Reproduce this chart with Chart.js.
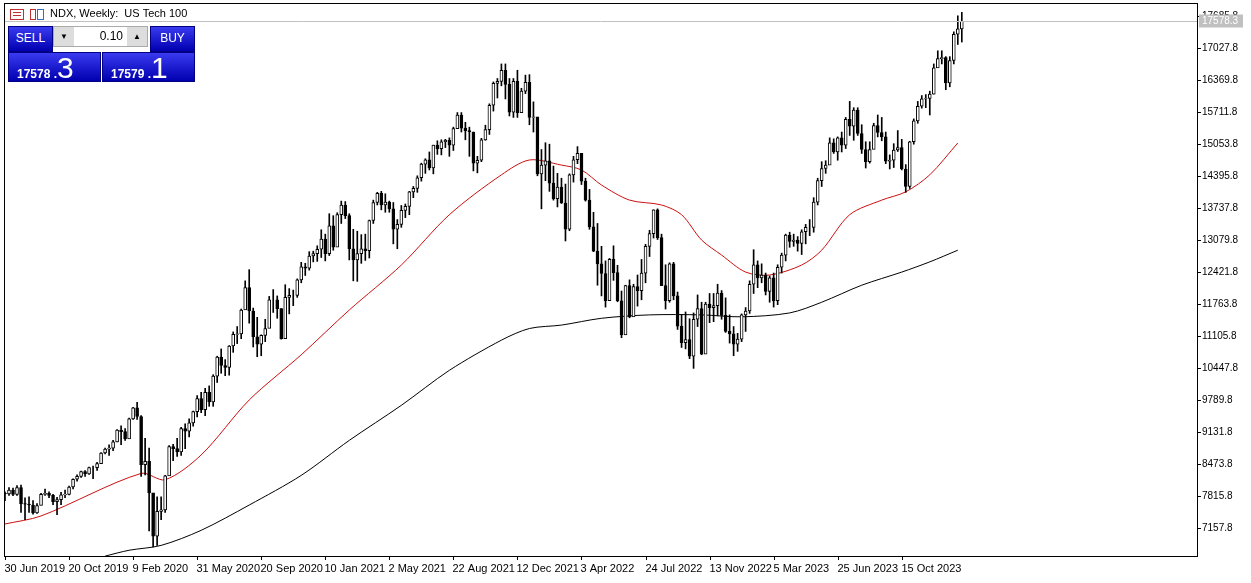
<!DOCTYPE html>
<html>
<head>
<meta charset="utf-8">
<script src="https://cdn.jsdelivr.net/npm/chart.js@4/dist/chart.umd.min.js"></script>
<style>
  html, body { margin: 0; padding: 0; background: #fff; overflow: hidden; }
  #wrap { position: relative; width: 1251px; height: 583px; }
  #c { position: absolute; left: 0; top: 0; }
  .panel { position: absolute; font-family: "Liberation Sans", Arial, sans-serif; color: #fff; }
  .blue { background: linear-gradient(#3a3af0, #0000b0); border: 1px solid #000080; box-sizing: border-box; }
  .btn { font-size: 12px; text-align: center; line-height: 22px; }
  .price { font-weight: bold; font-size: 12px; }
  .price b { font-size: 30px; font-weight: normal; }
</style>
</head>
<body>
<div id="wrap">
  <canvas id="c" width="1251" height="583"></canvas>
  <div class="panel blue btn" style="left:8px;top:26px;width:45px;height:26px;">SELL</div>
  <div class="panel" style="left:53px;top:26px;width:95px;height:21px;background:#fff;border:1px solid #aaa;box-sizing:border-box;color:#000;font-size:12px;">
    <span style="position:absolute;left:0;top:0;width:20px;height:19px;background:#ddd;text-align:center;font-size:8px;line-height:19px;">&#9660;</span>
    <span style="position:absolute;right:24px;top:2px;">0.10</span>
    <span style="position:absolute;right:0;top:0;width:20px;height:19px;background:#ddd;text-align:center;font-size:8px;line-height:19px;">&#9650;</span>
  </div>
  <div class="panel blue btn" style="left:150px;top:26px;width:45px;height:26px;">BUY</div>
  <div class="panel blue price" style="left:8px;top:52px;width:93px;height:30px;padding-left:8px;line-height:30px;">17578 .<b>3</b></div>
  <div class="panel blue price" style="left:102px;top:52px;width:93px;height:30px;padding-left:8px;line-height:30px;">17579 .<b>1</b></div>
</div>
<script>
const dateLabels = ['30 Jun 2019','20 Oct 2019','9 Feb 2020','31 May 2020','20 Sep 2020','10 Jan 2021',
  '2 May 2021','22 Aug 2021','12 Dec 2021','3 Apr 2022','24 Jul 2022','13 Nov 2022','5 Mar 2023',
  '25 Jun 2023','15 Oct 2023'];
const priceTicks = [7157.8,7815.8,8473.8,9131.8,9789.8,10447.8,11105.8,11763.8,12421.8,13079.8,
  13737.8,14395.8,15053.8,15711.8,16369.8,17027.8,17685.8];
const lastPrice = 17578.3;
const firstOpen = 7870;

// weekly closes, Jul 2019 .. Feb 2024
const closes = [
  7860,7940,7850,7990,7660,7650,7630,7470,7620,7850,7870,7830,7700,7740,7840,7850,8000,8160,8220,8320,8270,8400,8400,8480,8700,8780,
  8800,8930,9170,9140,8990,9400,9630,9450,8460,8530,7880,6990,7500,7530,8230,8830,8790,8720,9200,9150,9320,9550,9820,9590,9950,9750,10280,10670,10500,10460,10900,11140,11150,11640,12100,11620,11090,10940,11120,11260,11850,11850,11670,11050,11900,11940,11940,12260,12530,12500,12750,12800,
  12890,13100,12800,13370,12930,13600,13800,13580,12900,12670,12800,12900,12860,13480,13850,14040,13800,13860,13720,13300,13400,13690,13770,14070,14140,14360,14640,14730,14560,15030,14960,15100,15130,15030,15370,15650,15380,15330,15300,14660,14720,15140,15350,15850,16300,16340,16570,16280,15710,16340,15700,16140,16320,
  15600,15610,14440,14620,14710,14250,13930,14170,13840,13300,14420,14730,14860,14290,13900,13350,12850,12590,12390,11830,12680,12410,11830,11130,12140,11500,12120,12040,12400,12950,13210,13700,13130,12140,11830,12590,11930,11310,10970,11030,10690,11450,11670,10730,11760,11690,11730,11990,11530,11200,11150,10940,
  11040,11540,11620,12170,12570,12300,12360,12020,12300,11830,12520,12770,13180,13050,13080,13010,13250,13340,13340,13860,14300,14550,14620,15080,14890,15180,15030,15560,15420,15750,15270,14940,14690,14940,15430,15290,15200,14700,14720,14930,14980,14540,14180,15100,15530,15830,15980,15990,16080,16620,16810,16830,
  16310,16770,17310,17420,17578
];
const highs = [
  7900,7990,7980,8030,8040,7780,7800,7720,7660,7870,7960,7900,7850,7790,7890,7940,8020,8170,8250,8330,8340,8410,8430,8510,8710,8800,
  8870,8960,9180,9260,9200,9420,9640,9740,9470,9000,8800,7860,7800,7800,8240,8850,8880,9000,9230,9300,9400,9560,9880,9950,10030,10080,10310,10690,10840,10620,10910,11190,11300,11660,12240,12470,11680,11490,11130,11450,11920,12060,11930,11670,12160,12080,12050,12280,12620,12600,12840,12850,
  12960,13290,13200,13620,13580,13640,13880,13870,13620,13300,13260,13190,13200,13490,13900,14060,14080,14030,13880,13850,13500,13790,13820,14080,14180,14400,14660,14750,14890,15030,15120,15140,15150,15180,15400,15700,15700,15500,15400,15300,14800,15170,15440,15880,16330,16400,16700,16700,16400,16400,16570,16200,16470,
  16480,15920,15460,14940,15080,15050,14600,14450,14350,14230,14440,14800,15000,14850,14350,14120,13650,13420,12950,12650,12700,12960,12560,12030,12150,12260,12170,12360,12680,12990,13280,13700,13720,13200,12570,12610,12620,12010,11550,11600,11460,11580,11950,11800,11800,11980,11980,12170,12040,11890,11540,11300,
  11160,11560,11690,12240,12880,12650,12590,12400,12340,12400,12570,12810,13200,13240,13200,13150,13290,13400,13500,13950,14350,14690,14710,15180,15160,15200,15300,15600,15930,15800,15800,15450,15100,15100,15480,15650,15600,15300,14830,15060,15330,15150,14630,15110,15570,15930,16050,16070,16140,16700,16970,16970,
  16850,16850,17360,17690,17760
];
const lows = [
  7720,7830,7820,7830,7480,7330,7480,7440,7460,7630,7830,7780,7640,7430,7640,7780,7840,7960,8120,8200,8220,8260,8170,8340,8490,8680,
  8650,8750,8930,8870,8960,9000,9390,9390,8220,8250,7100,6770,6800,7330,7480,8260,8540,8630,8650,8790,9030,9250,9440,9530,9470,9660,9660,10150,10340,10290,10300,10770,10950,11050,11660,11370,10880,10680,10700,10990,11280,11590,11470,11040,11320,11560,11730,11900,12200,12350,12460,12630,
  12640,12720,12650,12760,12870,12950,13420,13520,12670,12240,12230,12600,12660,12710,13420,13800,13700,13650,13650,13000,12900,13340,13540,13600,13950,14060,14290,14450,14520,14440,14840,14830,14980,14800,14920,15370,15300,15140,14800,14500,14460,14690,15130,15250,15730,16000,16250,15980,15630,15600,15600,15700,16090,
  15450,15300,14400,13720,14300,14080,13900,13760,13830,13060,13270,14270,14650,14220,13880,13300,12840,12150,11930,11700,11920,12250,11810,11070,11180,11480,11520,11720,11850,12200,12740,13120,13090,12140,11660,11800,11850,11240,10870,10840,10640,10440,11300,10720,10760,11380,11400,11520,11450,11180,10960,10700,
  10790,10990,11200,11570,11980,12100,12200,11950,11800,11700,11750,12400,12650,12930,12950,12850,12780,13000,13170,13240,13800,14180,14450,14680,14860,14720,14890,14960,15230,15130,15230,14860,14560,14660,15050,15200,15120,14650,14540,14570,14900,14520,14060,14140,15050,15480,15790,15800,15650,16080,16670,16700,
  16170,16230,16700,17100,17150
];

// moving averages at sparse week indexes
const maFastWeek = [0,9,34,40,49,61,74,86,99,111,124,131,139,144,149,156,164,169,174,179,185,191,199,204,211,219,225,231,238];
const maFastVal  = [7240,7405,8280,8150,8660,9790,10720,11640,12565,13600,14420,14725,14620,14520,14210,13900,13800,13600,13080,12770,12420,12360,12565,12870,13600,13900,14070,14420,15075];
const maSlowWeek = [25,31,39,49,61,74,86,99,111,124,131,139,149,161,174,184,196,204,214,224,231,238];
const maSlowVal  = [6580,6700,6800,7110,7630,8240,8960,9680,10400,11020,11260,11330,11470,11540,11540,11500,11580,11800,12150,12420,12630,12870];

const opens = closes.map((c, i) => i === 0 ? firstOpen : closes[i - 1]);

const bodies = closes.map((c, i) => ({ x: i, y: [opens[i], c] }));
const wicks  = closes.map((c, i) => ({ x: i, y: [lows[i], highs[i]] }));
const bodyColors = closes.map((c, i) => c >= opens[i] ? '#ffffff' : '#000000');

const fastPts = maFastWeek.map((w, i) => ({ x: w, y: maFastVal[i] }));
const slowPts = maSlowWeek.map((w, i) => ({ x: w, y: maSlowVal[i] }));

const FONT = '11px "Liberation Sans", Arial, sans-serif';

const mtFrame = {
  id: 'mtFrame',
  beforeDraw(chart) {
    const ctx = chart.ctx;
    ctx.save();
    ctx.fillStyle = '#fff';
    ctx.fillRect(0, 0, chart.width, chart.height);
    ctx.restore();
  },
  afterDraw(chart) {
    const { ctx, chartArea: a, scales: { x, y } } = chart;
    ctx.save();
    // price line
    const py = Math.round(y.getPixelForValue(lastPrice)) + 0.5;
    ctx.strokeStyle = '#c0c0c0';
    ctx.lineWidth = 1;
    ctx.beginPath(); ctx.moveTo(a.left, py); ctx.lineTo(a.right, py); ctx.stroke();
    // frame
    ctx.strokeStyle = '#000';
    ctx.strokeRect(a.left + 0.5, a.top + 0.5, a.right - a.left, a.bottom - a.top);
    // price axis
    ctx.font = '10px "Liberation Sans", Arial, sans-serif';
    ctx.fillStyle = '#000';
    ctx.textBaseline = 'middle';
    ctx.textAlign = 'left';
    priceTicks.forEach(v => {
      const ty = Math.round(y.getPixelForValue(v)) + 0.5;
      ctx.beginPath(); ctx.moveTo(a.right, ty); ctx.lineTo(a.right + 4, ty); ctx.stroke();
      ctx.fillText(v.toFixed(1), a.right + 5, ty);
    });
    ctx.fillStyle = '#c0c0c0';
    ctx.fillRect(a.right + 2, py - 7, 44, 13);
    ctx.fillStyle = '#fff';
    ctx.fillText(lastPrice.toFixed(1), a.right + 5, py);
    // time axis
    ctx.fillStyle = '#000';
    ctx.font = FONT;
    dateLabels.forEach((t, k) => {
      const tx = Math.round(x.getPixelForValue(k * 16)) + 0.5;
      ctx.beginPath(); ctx.moveTo(tx, a.bottom); ctx.lineTo(tx, a.bottom + 4); ctx.stroke();
      ctx.fillText(t, tx - 1, a.bottom + 13);
    });
    // header
    ctx.fillText('NDX, Weekly:  US Tech 100', 50, 14);
    ctx.strokeStyle = '#c03030';
    ctx.strokeRect(10.5, 9.5, 13, 10);
    ctx.beginPath(); ctx.moveTo(13, 12.5); ctx.lineTo(21, 12.5); ctx.moveTo(13, 15.5); ctx.lineTo(21, 15.5); ctx.stroke();
    ctx.strokeRect(30.5, 9.5, 5, 10);
    ctx.strokeStyle = '#3070c0';
    ctx.strokeRect(37.5, 9.5, 6, 10);
    ctx.restore();
  }
};

new Chart(document.getElementById('c'), {
  type: 'bar',
  data: {
    datasets: [
      { type: 'line', data: fastPts, borderColor: '#cc1010', borderWidth: 1, pointRadius: 0, tension: 0.3, order: 3 },
      { type: 'line', data: slowPts, borderColor: '#000', borderWidth: 1, pointRadius: 0, tension: 0.3, order: 3 },
      { data: wicks, backgroundColor: '#000', borderWidth: 0, barThickness: 1, grouped: false, order: 2 },
      { data: bodies, backgroundColor: bodyColors, borderColor: '#000', borderWidth: 1, borderSkipped: false,
        barThickness: 3, grouped: false, order: 1 },
    ],
  },
  options: {
    responsive: false,
    animation: false,
    devicePixelRatio: 1,
    layout: { padding: { left: 4, right: 54, top: 3, bottom: 27 } },
    plugins: { legend: { display: false }, tooltip: { enabled: false } },
    scales: {
      x: { type: 'linear', min: -0.25, max: 297.75, offset: false, display: false },
      y: { min: 6582, max: 17953, display: false },
    },
  },
  plugins: [mtFrame],
});
</script>
</body>
</html>
